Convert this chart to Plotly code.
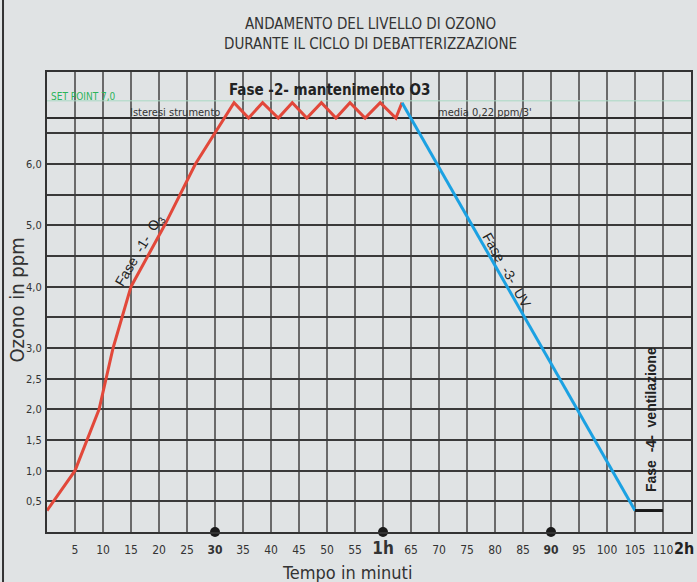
import plotly.graph_objects as go

# ---- data ----
fase1_min = [0, 5, 9.3, 11.8, 15, 21, 26.5, 33.4, 36.0, 38.5, 41.3, 43.8, 46.4, 49.0, 51.6, 54.1, 56.8, 59.5, 62.3, 63.4]
fase1_ppm = [0.35, 1.0, 2.0, 3.0, 4.0, 5.0, 6.0, 7.0, 6.75, 7.0, 6.75, 7.0, 6.75, 7.0, 6.75, 7.0, 6.75, 7.0, 6.75, 7.0]
fase3_min = [63.4, 105]
fase3_ppm = [7.0, 0.35]
fase4_min = [105, 110]
fase4_ppm = [0.35, 0.35]
marker_min = [30, 60, 90]
set_point = 7.03
isteresi_low = 6.75

y_ticks = [0.5, 1.0, 1.5, 2.0, 2.5, 3.0, 3.5, 4.0, 4.5, 5.0, 5.5, 6.0, 6.5]
y_labels = ["0,5", "1,0", "1,5", "2,0", "2,5", "3,0", "", "4,0", "", "5,0", "", "6,0", ""]
x_ticks = list(range(5, 120, 5))
x_labels = []
for v in x_ticks:
    if v == 30:
        x_labels.append("<b>30</b>")
    elif v == 60:
        x_labels.append("<b><span style='font-size:17px'>1h</span></b>")
    elif v == 90:
        x_labels.append("<b>90</b>")
    elif v == 115:
        x_labels.append("")  # drawn as right-anchored annotation "2h"
    else:
        x_labels.append(str(v))
end_label = "2h"

FONT = "Liberation Sans Narrow, Arial Narrow, DejaVu Sans Condensed, sans-serif"
BG = "#e0e3e4"

fig = go.Figure()
fig.add_trace(go.Scatter(x=[0, 115], y=[set_point, set_point], mode="lines",
                         line=dict(color="#a9d9c3", width=1), hoverinfo="skip"))
fig.add_trace(go.Scatter(x=[0, 115], y=[isteresi_low, isteresi_low], mode="lines",
                         line=dict(color="#2e2e2e", width=2), hoverinfo="skip"))
fig.add_trace(go.Scatter(x=fase1_min, y=fase1_ppm, mode="lines",
                         line=dict(color="#e2483a", width=3)))
fig.add_trace(go.Scatter(x=fase3_min, y=fase3_ppm, mode="lines",
                         line=dict(color="#1ba1e2", width=3)))
fig.add_trace(go.Scatter(x=fase4_min, y=fase4_ppm, mode="lines",
                         line=dict(color="#1a1a1a", width=3)))
fig.add_trace(go.Scatter(x=marker_min, y=[0, 0, 0], mode="markers",
                         marker=dict(color="#1a1a1a", size=10), cliponaxis=False))

fig.update_layout(
    width=697, height=582,
    margin=dict(l=47, r=6, t=72, b=50, autoexpand=False),
    paper_bgcolor=BG, plot_bgcolor=BG,
    showlegend=False,
    font=dict(family=FONT, color="#333333", size=12),
    xaxis=dict(range=[0, 115], tickvals=x_ticks, ticktext=x_labels,
               showgrid=True, gridcolor="#6a6a6a", gridwidth=1.5,
               showline=True, linecolor="#333333", linewidth=2, mirror=True,
               zeroline=False, ticks="", ticklabelstandoff=6,
               ticklabeloverflow="allow", automargin=False,
               tickfont=dict(size=12, color="#333333", family=FONT)),
    yaxis=dict(range=[0, 7.5], tickvals=y_ticks, ticktext=y_labels,
               showgrid=True, gridcolor="#3a3a3a", gridwidth=1.5,
               showline=True, linecolor="#333333", linewidth=2, mirror=True,
               zeroline=False, ticks="", ticklabelstandoff=1, automargin=False,
               tickfont=dict(size=11, color="#333333", family=FONT)),
)

ann = [
    dict(text="ANDAMENTO DEL LIVELLO DI OZONO<br>DURANTE IL CICLO DI DEBATTERIZZAZIONE",
         xref="paper", yref="paper", x=0.502, y=1.083, xanchor="center", yanchor="middle",
         showarrow=False, font=dict(size=15, color="#333333", family=FONT), align="center"),
    dict(text="Ozono in ppm", xref="paper", yref="paper", x=-0.046, y=0.504,
         xanchor="center", yanchor="middle",
         textangle=-90, showarrow=False, font=dict(size=20, color="#333333", family=FONT)),
    dict(text="Tempo in minuti", xref="paper", yref="paper", x=0.466, y=-0.087,
         xanchor="center", yanchor="middle",
         showarrow=False, font=dict(size=18, color="#333333", family=FONT)),
    dict(text="<b>%s</b>" % end_label, xref="paper", yref="paper", x=1.0085, y=-0.035,
         xanchor="right", yanchor="middle", showarrow=False,
         font=dict(size=16, color="#222222", family=FONT)),
    dict(text="<b>Fase -2- mantenimento O3</b>", x=50.5, y=7.21, showarrow=False,
         font=dict(size=15, color="#222222", family=FONT)),
    dict(text="SET POINT 7,0", x=0.4, y=7.1, xanchor="left", showarrow=False,
         font=dict(size=10, color="#2bb35a", family=FONT)),
    dict(text="Isteresi strumento", x=14.5, y=6.84, xanchor="left", showarrow=False,
         font=dict(size=11, color="#333333", family=FONT)),
    dict(text="media 0,22 ppm/3'", x=69.5, y=6.84, xanchor="left", showarrow=False,
         font=dict(size=11, color="#333333", family=FONT)),
    dict(text="Fase  -1-  O<sub>3</sub>", x=16.6, y=4.6, textangle=-59.5, showarrow=False,
         font=dict(size=14, color="#222222", family="Liberation Sans, Arial, sans-serif")),
    dict(text="Fase  -3-  UV", x=82.1, y=4.27, textangle=60.5, showarrow=False,
         font=dict(size=14, color="#222222", family="Liberation Sans, Arial, sans-serif")),
    dict(text="<b>Fase  -4-  ventilazione</b>", x=107.9, y=1.83, textangle=-90, showarrow=False,
         font=dict(size=14, color="#222222", family="Liberation Sans, Arial, sans-serif")),
]
fig.update_layout(annotations=ann)

fig.add_shape(type="line", xref="paper", yref="paper", x0=-0.0683, x1=-0.0683,
              y0=-0.11, y1=1.16, line=dict(color="#333333", width=2))

fig.write_html("out.html", config={"displayModeBar": False},
               post_script="document.body.style.margin='0';document.body.style.background='%s';" % BG)
